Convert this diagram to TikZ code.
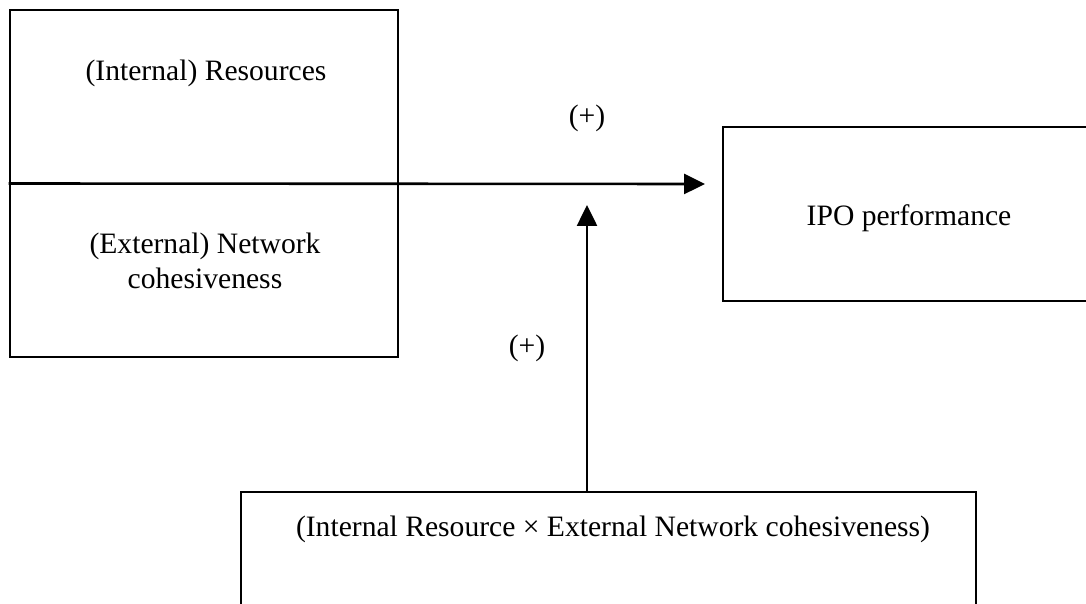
\documentclass[tikz,border=0pt]{standalone}
\usepackage{fontspec}
\setmainfont{Liberation Serif}
\usetikzlibrary{arrows.meta}
\begin{document}
\begin{tikzpicture}[x=0.5pt,y=-0.5pt,
  box/.style={draw,line width=1.3pt,rectangle,inner sep=0pt},
  lbl/.style={font=\fontsize{14.8pt}{17.5pt}\selectfont,inner sep=0pt,align=center},
  conn/.style={line width=1.3pt,-{Triangle[length=10.5pt,width=10pt]}}]
\useasboundingbox (0,0) rectangle (1086,604);
% left box
\node[box,minimum width=194pt,minimum height=173.5pt] (src) at (204,183.5) {};
\node[lbl] (int) at (206,73) {(Internal) Resources};
\node[lbl] (ext) at (205,261) {(External) Network\\cohesiveness};
% IPO box (right edge beyond canvas)
\node[box,minimum width=188.5pt,minimum height=87pt] (ipo) at (911.5,214) {};
\node[lbl] (ipot) at (909,218) {IPO performance};
% interaction box (bottom edge beyond canvas)
\node[box,minimum width=367.5pt,minimum height=74pt] (inter) at (608.5,566) {};
\node[lbl] (intert) at (613,529) {(Internal Resource × External Network cohesiveness)};
% arrows
\coordinate (htip) at (705,184);
\coordinate (vtip) at (587,205);
\draw[conn] (src.west) -- (htip);
\draw[conn] (inter.north -| vtip) -- (vtip);
\node[lbl] (p1) at (587,118) {(+)};
\node[lbl] (p2) at (527,348) {(+)};
\end{tikzpicture}
\end{document}
